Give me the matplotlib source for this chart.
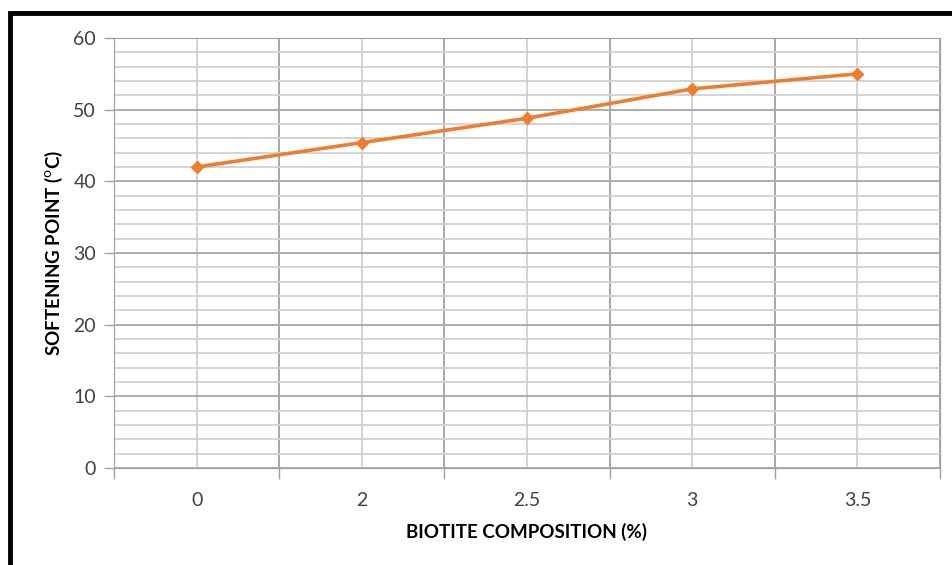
import matplotlib.pyplot as plt
from matplotlib.patches import Rectangle
from matplotlib.ticker import MultipleLocator

# Biotite composition vs softening point
categories = ["0", "2", "2.5", "3", "3.5"]
softening = [42.0, 45.4, 48.8, 52.9, 55.0]

plt.rcParams['font.family'] = ['Lato', 'DejaVu Sans']

fig = plt.figure(figsize=(9.52, 5.65), dpi=100)
ax = fig.add_axes([114 / 952, 1 - 468 / 565, (940 - 114) / 952, (468 - 38) / 565])

# black frame of the picture (only top and left visible)
fig.add_artist(Rectangle((10 / 952, -0.1), 1.2, 1 - 13 / 565 + 0.1,
                         transform=fig.transFigure, fill=False,
                         edgecolor='black', linewidth=3.5))

x = range(len(categories))
ax.plot(x, softening, color='#ED7D31', linewidth=2.6, marker='D', markersize=6.5)

ax.set_xlim(-0.5, len(categories) - 0.5)
ax.set_ylim(0, 60)

# gridlines, Excel style
ax.yaxis.set_major_locator(MultipleLocator(10))
ax.yaxis.set_minor_locator(MultipleLocator(2))
ax.grid(which='major', axis='y', color='#a6a6a6', linewidth=1.3)
ax.grid(which='minor', axis='y', color='#d0d0d0', linewidth=1.3)
ax.set_xticks(list(x))
ax.set_xticks([i + 0.5 for i in range(-1, len(categories))], minor=True)
ax.grid(which='major', axis='x', color='#d0d0d0', linewidth=1.3)
ax.grid(which='minor', axis='x', color='#a0a0a0', linewidth=1.3)
ax.set_axisbelow(True)

ax.set_xticklabels(categories)
ax.tick_params(axis='x', which='major', length=0, pad=17, labelsize=14, colors='#404040')
ax.tick_params(axis='x', which='minor', length=8, width=1, color='#a0a0a0')
ax.tick_params(axis='y', which='major', length=7, width=1, color='#a0a0a0',
               labelsize=14, labelcolor='#404040', pad=6)
ax.tick_params(axis='y', which='minor', length=0)

for side in ['top', 'right', 'left', 'bottom']:
    ax.spines[side].set_color('#a0a0a0')

ax.set_xlabel("BIOTITE COMPOSITION (%)", fontsize=13.5, fontweight='bold', labelpad=10)
ax.set_ylabel("SOFTENING POINT ($^{\\mathrm{o}}$C)", fontsize=13.5, fontweight='bold', labelpad=6)

fig.savefig("out.png", dpi=100)
